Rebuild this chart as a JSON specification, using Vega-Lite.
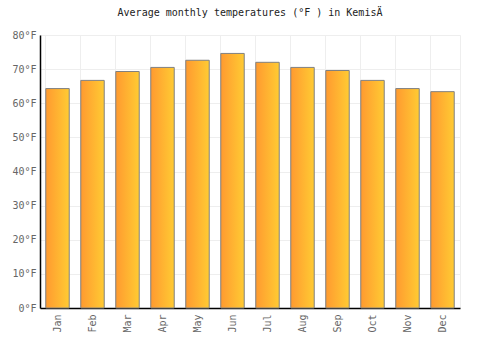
{
  "$schema": "https://vega.github.io/schema/vega-lite/v6.json",
  "width": 420,
  "height": 273,
  "autosize": {"type": "none"},
  "padding": {"left": 40, "top": 35, "right": 40, "bottom": 42},
  "background": "white",
  "title": {
    "text": "Average monthly temperatures (°F ) in KemisÄ",
    "font": "DejaVu Sans Mono",
    "fontSize": 10,
    "fontWeight": "normal",
    "color": "#222222",
    "anchor": "middle",
    "offset": 12
  },
  "config": {
    "view": {"stroke": "#eeeeee", "strokeWidth": 1},
    "axis": {
      "labelFont": "DejaVu Sans Mono",
      "labelFontSize": 10,
      "labelColor": "#666666",
      "gridColor": "#eeeeee",
      "gridWidth": 1,
      "ticks": false,
      "domainColor": "#000000",
      "domainWidth": 1.5
    }
  },
  "data": {
    "values": [
      {"month": "Jan", "temp": 64.3},
      {"month": "Feb", "temp": 66.7},
      {"month": "Mar", "temp": 69.3},
      {"month": "Apr", "temp": 70.5},
      {"month": "May", "temp": 72.6},
      {"month": "Jun", "temp": 74.6},
      {"month": "Jul", "temp": 72.0},
      {"month": "Aug", "temp": 70.5},
      {"month": "Sep", "temp": 69.6},
      {"month": "Oct", "temp": 66.7},
      {"month": "Nov", "temp": 64.3},
      {"month": "Dec", "temp": 63.4}
    ]
  },
  "mark": {
    "type": "bar",
    "stroke": "#808080",
    "strokeWidth": 1,
    "fill": {
      "gradient": "linear",
      "x1": 0, "x2": 1, "y1": 0, "y2": 0,
      "stops": [
        {"offset": 0, "color": "#ff9a30"},
        {"offset": 1, "color": "#ffcb33"}
      ]
    }
  },
  "encoding": {
    "x": {
      "field": "month",
      "type": "nominal",
      "sort": null,
      "title": null,
      "scale": {"paddingInner": 0.33, "paddingOuter": 0.165},
      "axis": {
        "labelAngle": -90,
        "labelPadding": 6,
        "grid": true,
        "bandPosition": 0
      }
    },
    "y": {
      "field": "temp",
      "type": "quantitative",
      "title": null,
      "scale": {"domain": [0, 80]},
      "axis": {
        "values": [0, 10, 20, 30, 40, 50, 60, 70, 80],
        "labelExpr": "datum.value + '°F'",
        "labelPadding": 4,
        "grid": true
      }
    }
  }
}
